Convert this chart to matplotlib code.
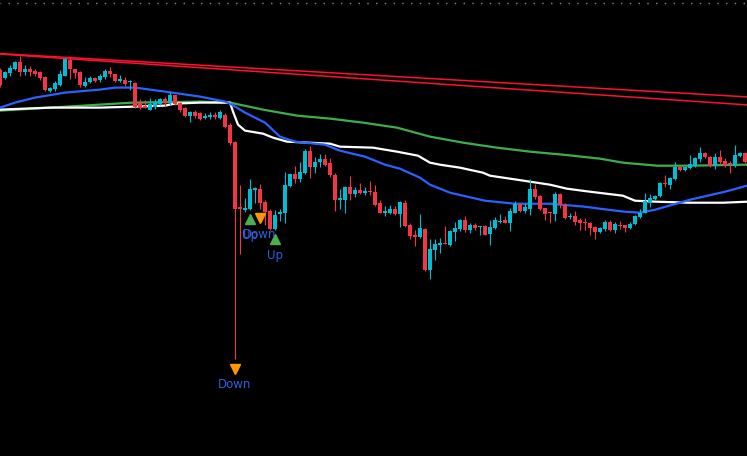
import numpy as np
import matplotlib
matplotlib.use('Agg')
import matplotlib.pyplot as plt
from matplotlib.transforms import ScaledTranslation

# OHLC per bar (arbitrary price units)
opens = [430, 422, 427, 431, 438, 428, 431, 429, 428, 423,
         409, 411, 415, 424, 440, 431, 428, 414, 418, 422,
         420, 423, 429, 426, 419, 420, 418, 417, 397, 394,
         390, 393, 396, 401, 397, 405, 397, 392, 384, 388,
         387, 382, 383, 385, 382, 385, 375, 358, 293, 290,
         291, 310, 311, 298, 289, 271, 286, 287, 314, 326,
         321, 327, 349, 333, 338, 341, 337, 325, 300, 300,
         313, 306, 310, 307, 309, 308, 297, 287, 287, 291,
         286, 297, 275, 265, 263, 271, 230, 250, 255, 257,
         255, 268, 271, 280, 270, 275, 273, 274, 266, 272,
         278, 280, 277, 287, 296, 289, 291, 311, 304, 292,
         288, 286, 306, 295, 283, 284, 280, 278, 277, 273,
         268, 271, 278, 270, 275, 275, 272, 276, 283, 287,
         297, 301, 304, 317, 315, 321, 333, 330, 332, 334,
         341, 347, 343, 334, 343, 339, 337, 334, 344, 347]
highs = [432, 429, 435, 439, 444, 435, 434, 431, 429, 424,
         413, 419, 430, 442, 442, 431, 429, 423, 424, 423,
         426, 431, 433, 426, 425, 423, 420, 418, 401, 400,
         402, 401, 402, 403, 408, 405, 398, 393, 389, 390,
         388, 387, 388, 388, 390, 387, 377, 359, 315, 302,
         321, 313, 316, 300, 291, 290, 291, 328, 327, 334,
         338, 351, 354, 343, 346, 346, 342, 327, 311, 314,
         324, 313, 317, 313, 319, 315, 300, 294, 295, 294,
         299, 300, 277, 270, 286, 272, 261, 261, 262, 274,
         270, 278, 281, 284, 277, 277, 274, 275, 280, 283,
         286, 284, 292, 299, 297, 297, 321, 316, 305, 292,
         288, 308, 307, 297, 287, 289, 282, 282, 278, 274,
         273, 280, 280, 278, 279, 275, 278, 285, 291, 307,
         306, 305, 318, 325, 323, 338, 334, 333, 345, 343,
         353, 348, 344, 347, 350, 342, 339, 355, 348, 348]
lows = [413, 421, 424, 430, 424, 425, 424, 424, 420, 409,
        408, 409, 414, 424, 421, 422, 413, 413, 417, 418,
        418, 421, 423, 418, 418, 414, 410, 392, 391, 392,
        390, 391, 395, 394, 395, 395, 388, 383, 378, 382,
        380, 381, 381, 381, 381, 372, 355, 141, 246, 288,
        290, 297, 291, 275, 270, 270, 279, 277, 313, 317,
        318, 326, 322, 327, 333, 334, 323, 289, 291, 287,
        300, 303, 306, 305, 305, 294, 287, 284, 286, 285,
        273, 273, 261, 254, 262, 229, 221, 240, 247, 256,
        254, 259, 269, 268, 267, 270, 265, 265, 255, 271,
        277, 277, 269, 287, 288, 287, 285, 301, 290, 280,
        277, 279, 292, 281, 281, 275, 270, 270, 265, 261,
        267, 269, 269, 267, 271, 268, 271, 275, 282, 287,
        293, 300, 303, 313, 311, 320, 329, 329, 331, 333,
        338, 342, 333, 331, 336, 333, 327, 333, 343, 337]
closes = [415, 428, 432, 438, 428, 431, 428, 426, 422, 410,
          412, 417, 426, 441, 431, 427, 415, 418, 422, 419,
          424, 429, 426, 419, 421, 416, 419, 393, 392, 392,
          396, 398, 401, 397, 405, 396, 390, 384, 388, 384,
          381, 384, 385, 383, 388, 373, 357, 291, 291, 292,
          311, 312, 297, 288, 271, 285, 288, 315, 326, 321,
          328, 349, 333, 338, 341, 335, 325, 300, 302, 313,
          306, 310, 307, 309, 308, 295, 287, 289, 291, 286,
          298, 274, 264, 263, 272, 230, 251, 256, 257, 256,
          269, 272, 280, 270, 275, 272, 274, 265, 273, 280,
          279, 277, 289, 296, 289, 293, 311, 303, 291, 286,
          287, 306, 295, 282, 284, 278, 277, 277, 272, 268,
          272, 278, 270, 276, 274, 272, 276, 284, 287, 299,
          302, 304, 317, 316, 322, 333, 330, 333, 336, 342,
          347, 343, 334, 343, 338, 334, 336, 345, 347, 338]

# moving averages (bar index, value)
blue_x = [0, 3, 7, 13, 20, 23, 27, 30, 33, 40, 45, 46, 49, 53, 56, 59, 65, 68,
          73, 77, 80, 84, 86, 90, 97, 103, 110, 117, 120, 125, 128, 131, 138, 145, 149.4]
blue_y = [392, 397, 402, 407, 410, 412, 412, 410, 408, 403, 398, 396, 387, 377, 363,
          358, 355, 349, 343, 335, 331, 322, 315, 307, 299, 296, 296, 293, 291, 288,
          287, 290, 300, 308, 314]
white_x = [0, 10, 20, 27, 33, 35, 40, 46, 46.6, 47.6, 49, 52.6, 54.6, 57.4, 66, 68,
           74.6, 79.4, 83.6, 86, 88, 92, 96.6, 98, 103.4, 110, 113.4, 118, 124.6, 127,
           131.4, 138, 144.6, 149.4]
white_y = [390, 392, 392, 393, 394, 396, 397, 397, 388, 375, 369, 366, 362, 358, 356,
           353, 352, 348, 344, 337, 335, 332, 327, 324, 320, 315, 311, 308, 304, 299,
           298, 297, 297, 298]
green_x = [0, 13.4, 26.6, 40, 46, 52.6, 59.4, 66, 72.6, 79.4, 86, 92.6, 99.4, 106,
           112.6, 120, 124.6, 131.4, 138, 149.4]
green_y = [389, 393, 397, 398, 397, 390, 384, 381, 377, 372, 363, 357, 352, 348, 345,
           341, 337, 334, 334, 335]

# trend lines
trend1_x, trend1_y = [0, 149.4], [446, 402.7]
trend2_x, trend2_y = [0, 149.4], [445.5, 394.7]

# signals
sig_idx = [47, 50, 52, 55]
sig_type = ['Down', 'Up', 'Down', 'Up']

UP = '#00bcd4'
DOWN = '#f23645'
BG = '#000000'

fig = plt.figure(figsize=(7.47, 4.565), dpi=100, facecolor=BG)
ax = fig.add_axes([0, 0, 1, 1])
ax.set_facecolor(BG)

# dotted line along the top
ax.axhline(497, color='#8a8a8a', lw=1.0, linestyle=(0.5, (1, 5.3)))

ax.plot(trend1_x, trend1_y, color='#ff1030', lw=1.1, zorder=2)
ax.plot(trend2_x, trend2_y, color='#ff1030', lw=1.1, zorder=2)

ax.plot(green_x, green_y, color='#3fae49', lw=1.6, zorder=3)
ax.plot(white_x, white_y, color='#ffffff', lw=1.6, zorder=3)
ax.plot(blue_x, blue_y, color='#2962ff', lw=1.6, zorder=3)

o = np.array(opens)
h = np.array(highs)
l = np.array(lows)
c = np.array(closes)
x = np.arange(len(o))
cols = np.where(c >= o, UP, DOWN)

ax.vlines(x, l, h, colors=cols, lw=0.8, zorder=4)
bottom = np.minimum(o, c)
height = np.maximum(np.abs(c - o), 1.0)
ax.bar(x, height, bottom=bottom, width=0.62, color=cols, linewidth=0, zorder=5)

# signal markers below the bar low
shift = ax.transData + ScaledTranslation(0, -7 / 72, fig.dpi_scale_trans)
for i, t in zip(sig_idx, sig_type):
    if t == 'Up':
        mk, mc = '^', '#4caf50'
    else:
        mk, mc = 'v', '#ff9800'
    ax.plot([i], [l[i]], linestyle='none', marker=mk, color=mc, markersize=7,
            transform=shift, zorder=6)
    ax.annotate(t, xy=(i, l[i]), xytext=(0, -18), textcoords='offset points',
                ha='center', va='center', color='#2f5fe0', fontsize=8.5, zorder=7)

ax.set_xlim(0, 149.4)
ax.set_ylim(44, 500)
ax.axis('off')

fig.savefig('out.png', dpi=100, facecolor=BG)
